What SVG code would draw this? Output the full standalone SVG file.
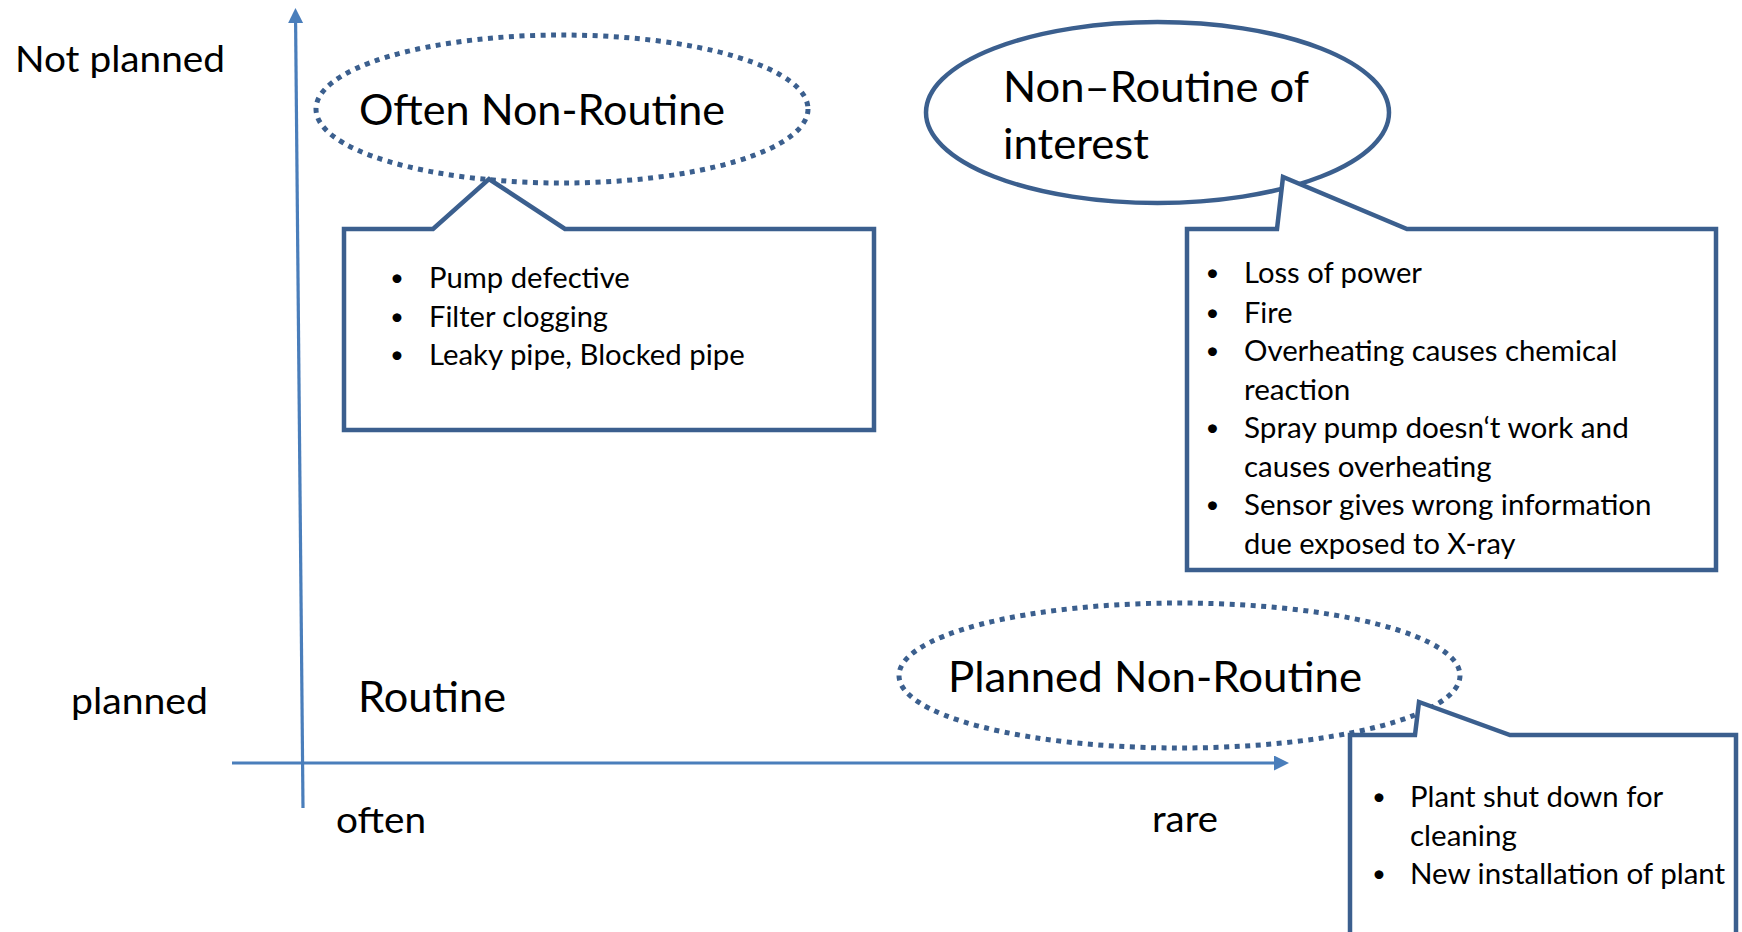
<svg xmlns="http://www.w3.org/2000/svg" width="1742" height="932" viewBox="0 0 1742 932">
<style>
  text { font-family: "Lato", "Liberation Sans", sans-serif; fill: #000; }
  .big { font-size: 42.5px; }
  .axl { font-size: 37px; }
  .item { font-size: 28.5px; }
  .bul { font-size: 24px; text-anchor: middle; }
  .axis { stroke: #4A7EBB; stroke-width: 3.2; fill: none; }
  .dotted { fill: none; stroke: #3B5F8E; stroke-width: 5; stroke-dasharray: 5 5.5; }
  .solid { fill: #fff; stroke: #3B5F8E; stroke-width: 4.5; }
  .callout { fill: #fff; stroke: #3B5F8E; stroke-width: 4.5; stroke-linejoin: miter; }
</style>
<defs>
  <marker id="arrow" markerUnits="userSpaceOnUse" markerWidth="16" markerHeight="16" refX="0" refY="7.5" orient="auto">
    <path d="M0,0 L15,7.5 L0,15 Z" fill="#4A7EBB"/>
  </marker>
</defs>
<rect width="1742" height="932" fill="#fff"/>

<g id="connectors">
  <line class="axis" x1="303" y1="808" x2="295.6" y2="23" marker-end="url(#arrow)"/>
  <line class="axis" x1="232" y1="763" x2="1274" y2="763" marker-end="url(#arrow)"/>
</g>

<g id="label-not-planned"><text class="axl" x="15" y="72" textLength="210" lengthAdjust="spacingAndGlyphs">Not planned</text></g>
<g id="label-planned"><text class="axl" x="71" y="714" textLength="137" lengthAdjust="spacingAndGlyphs">planned</text></g>
<g id="label-often"><text class="axl" x="336" y="833" textLength="90" lengthAdjust="spacingAndGlyphs">often</text></g>
<g id="label-rare"><text class="axl" x="1152" y="832" textLength="66" lengthAdjust="spacingAndGlyphs">rare</text></g>
<g id="routine"><text class="big" x="358" y="712" textLength="148" lengthAdjust="spacingAndGlyphs">Routine</text></g>

<g id="often-nonroutine">
  <ellipse class="dotted" cx="562" cy="109" rx="246" ry="74"/>
  <text class="big" x="359" y="125" textLength="366" lengthAdjust="spacingAndGlyphs">Often Non-Routine</text>
</g>
<g id="often-callout">
  <path class="callout" d="M344,229 L433,229 L489,179 L565,229 L874,229 L874,430 L344,430 Z"/>
  <text class="bul" x="397" y="286">•</text>
  <text class="item" x="429" y="288" textLength="200.8" lengthAdjust="spacingAndGlyphs">Pump defective</text>
  <text class="bul" x="397" y="324.5">•</text>
  <text class="item" x="429" y="326.5" textLength="179" lengthAdjust="spacingAndGlyphs">Filter clogging</text>
  <text class="bul" x="397" y="363">•</text>
  <text class="item" x="429" y="365" textLength="315.7" lengthAdjust="spacingAndGlyphs">Leaky pipe, Blocked pipe</text>
</g>

<g id="nonroutine-interest">
  <ellipse class="solid" cx="1157.5" cy="112.5" rx="231.5" ry="90.5"/>
  <text class="big" x="1003" y="102" textLength="306" lengthAdjust="spacingAndGlyphs">Non–Routine of</text>
  <text class="big" x="1003" y="159" textLength="146" lengthAdjust="spacingAndGlyphs">interest</text>
</g>
<g id="interest-callout">
  <path class="callout" d="M1187,229 L1277,229 L1283,177 L1407,229 L1716,229 L1716,570 L1187,570 Z"/>
  <text class="bul" x="1212.5" y="281">•</text>
  <text class="item" x="1244" y="283" textLength="178" lengthAdjust="spacingAndGlyphs">Loss of power</text>
  <text class="bul" x="1212.5" y="320.5">•</text>
  <text class="item" x="1244" y="322.5" textLength="48.5" lengthAdjust="spacingAndGlyphs">Fire</text>
  <text class="bul" x="1212.5" y="359">•</text>
  <text class="item" x="1244" y="361" textLength="373.5" lengthAdjust="spacingAndGlyphs">Overheating causes chemical</text>
  <text class="item" x="1244" y="399.5" textLength="106.3" lengthAdjust="spacingAndGlyphs">reaction</text>
  <text class="bul" x="1212.5" y="436">•</text>
  <text class="item" x="1244" y="438" textLength="384.8" lengthAdjust="spacingAndGlyphs">Spray pump doesn‘t work and</text>
  <text class="item" x="1244" y="476.5" textLength="247.5" lengthAdjust="spacingAndGlyphs">causes overheating</text>
  <text class="bul" x="1212.5" y="513">•</text>
  <text class="item" x="1244" y="515" textLength="407.5" lengthAdjust="spacingAndGlyphs">Sensor gives wrong information</text>
  <text class="item" x="1244" y="553.5" textLength="271.6" lengthAdjust="spacingAndGlyphs">due exposed to X-ray</text>
</g>

<g id="planned-nonroutine">
  <ellipse class="dotted" cx="1179.5" cy="675.5" rx="280.5" ry="72.5"/>
  <text class="big" x="948" y="692" textLength="414" lengthAdjust="spacingAndGlyphs">Planned Non-Routine</text>
</g>
<g id="planned-callout">
  <path class="callout" d="M1350,735 L1415,735 L1419,702 L1510,735 L1736,735 L1736,950 L1350,950 Z"/>
  <text class="bul" x="1379" y="805">•</text>
  <text class="item" x="1410" y="807" textLength="253.2" lengthAdjust="spacingAndGlyphs">Plant shut down for</text>
  <text class="item" x="1410" y="845.5" textLength="106.8" lengthAdjust="spacingAndGlyphs">cleaning</text>
  <text class="bul" x="1379" y="882">•</text>
  <text class="item" x="1410" y="884" textLength="315.2" lengthAdjust="spacingAndGlyphs">New installation of plant</text>
</g>
</svg>
